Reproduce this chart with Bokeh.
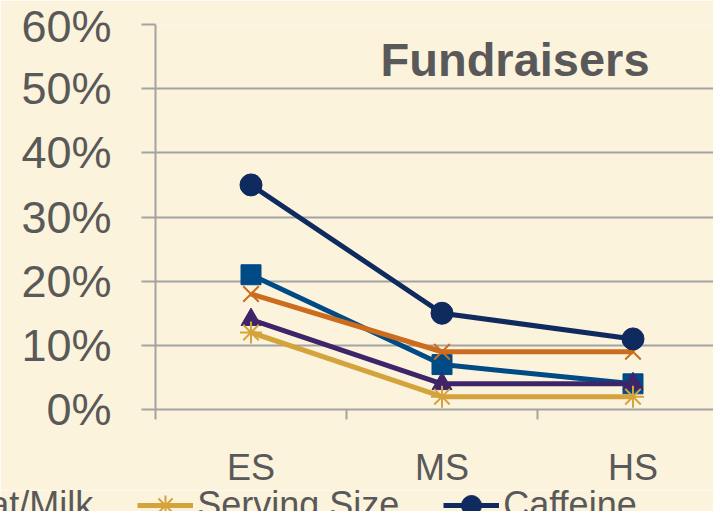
from bokeh.plotting import figure
from bokeh.models import Range1d, FixedTicker, NumeralTickFormatter, Label, LinearAxis, Legend, LegendItem
from bokeh.embed import file_html
from bokeh.resources import INLINE

levels = ["ES", "MS", "HS"]
sugar = [0.21, 0.07, 0.04]
sodium = [0.18, 0.09, 0.09]
fat_milk = [0.14, 0.04, 0.04]
serving_size = [0.12, 0.02, 0.02]
caffeine = [0.35, 0.15, 0.11]
y_ticks = [0.0, 0.1, 0.2, 0.3, 0.4, 0.5, 0.6]

BG = "#FCF3DC"
GRID = "#A3A3A3"
TXT = "#595959"
FONT = "Liberation Sans"

xs = list(range(len(levels)))

p = figure(width=713, height=490, output_backend="svg", toolbar_location=None,
           x_range=Range1d(-0.5, -0.5 + 558 / 191), y_range=Range1d(0, 0.6),
           min_border_left=155, min_border_right=0, min_border_top=24, min_border_bottom=75,
           background_fill_color=BG, border_fill_color=BG, outline_line_color=None,
           x_axis_type=None)

series = [
    ("Sugar", sugar, "#004A86", "square", 20, 1),
    ("Sodium", sodium, "#CC6C1E", "x", 22, 2),
    ("Fat/Milk", fat_milk, "#3E2469", "triangle", 20, 1),
    ("Serving Size", serving_size, "#D4A43C", "asterisk", 22, 2),
    ("Caffeine", caffeine, "#0F2A5E", "circle", 22, 1),
]
for name, vals, color, marker, size, lw in series:
    p.line(xs, vals, line_color=color, line_width=5)
    p.scatter(xs, vals, marker=marker, size=size, fill_color=color, line_color=color,
              line_width=lw)

# y axis
yax = p.yaxis[0]
yax.ticker = FixedTicker(ticks=y_ticks)
yax.formatter = NumeralTickFormatter(format="0%")
yax.axis_line_color = GRID
yax.axis_line_width = 2
yax.major_tick_line_color = GRID
yax.major_tick_line_width = 2
yax.major_tick_out = 14
yax.major_tick_in = 0
yax.minor_tick_line_color = None
yax.major_label_standoff = 30
yax.major_label_text_font = FONT
yax.major_label_text_font_size = "45px"
yax.major_label_text_color = TXT

p.ygrid.ticker = FixedTicker(ticks=y_ticks)
p.ygrid.grid_line_color = GRID
p.ygrid.grid_line_width = 2
p.xgrid.grid_line_color = None

# x axis (category labels at centers, tick marks at boundaries)
xax = LinearAxis(ticker=FixedTicker(ticks=xs, minor_ticks=[i - 0.5 for i in range(len(levels) + 1)]),
                 major_label_overrides={i: lv for i, lv in enumerate(levels)})
xax.axis_line_color = GRID
xax.axis_line_width = 2
xax.major_tick_line_color = None
xax.major_tick_out = 0
xax.major_tick_in = 0
xax.minor_tick_line_color = GRID
xax.minor_tick_line_width = 2
xax.minor_tick_out = 10
xax.minor_tick_in = 0
xax.major_label_standoff = 27
xax.major_label_text_font = FONT
xax.major_label_text_font_size = "36px"
xax.major_label_text_color = TXT
p.add_layout(xax, "below")

p.add_layout(Label(x=0.678, y=0.546, text="Fundraisers", text_font=FONT,
                   text_font_size="47px", text_font_style="bold", text_color=TXT,
                   text_baseline="alphabetic"))

# legend strip (clipped like the reference); its renderers draw outside the view
lf = figure(width=713, height=21, output_backend="svg", toolbar_location=None,
            x_range=Range1d(50, 51), y_range=Range1d(0, 1), min_border=0,
            x_axis_type=None, y_axis_type=None, outline_line_color=None,
            background_fill_color=BG, border_fill_color=BG)
items = []
for name, vals, color, marker, size, lw in series:
    r1 = lf.line(xs, vals, line_color=color, line_width=5)
    r2 = lf.scatter(xs, vals, marker=marker, size=size, fill_color=color, line_color=color,
                    line_width=lw)
    items.append(LegendItem(label=name, renderers=[r1, r2]))
lg = Legend(items=items, orientation="horizontal", location=(-519, -19),
            label_text_font=FONT, label_text_font_size="36px", label_text_color=TXT,
            glyph_width=56, glyph_height=50, label_standoff=4, spacing=44,
            padding=0, margin=0, background_fill_alpha=0, border_line_alpha=0)
lf.add_layout(lg, "center")

open("out.html", "w").write(file_html([p, lf], INLINE))
